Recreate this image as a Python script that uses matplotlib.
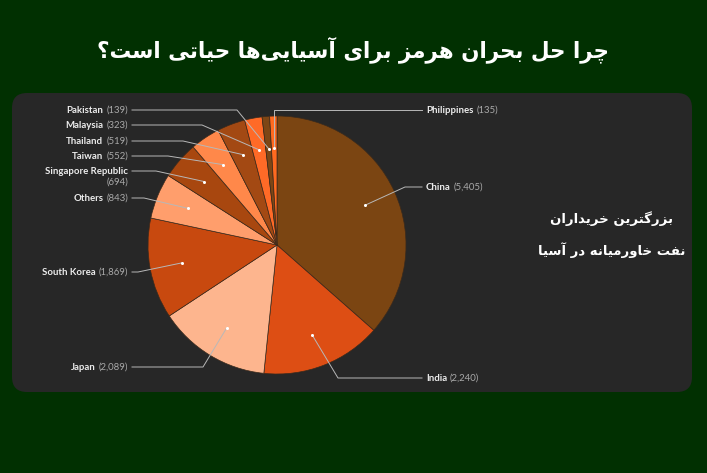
import matplotlib
matplotlib.use('Agg')
import matplotlib.pyplot as plt
from matplotlib.patches import FancyBboxPatch
import numpy as np

# data
countries = ['China', 'India', 'Japan', 'South Korea', 'Others', 'Singapore Republic',
             'Taiwan', 'Thailand', 'Malaysia', 'Pakistan', 'Philippines']
imports = [5405, 2240, 2089, 1869, 843, 694, 552, 519, 323, 139, 135]
colors = ['#7b4512', '#dd4e14', '#fdb58e', '#c8490f', '#ff9e6c', '#a8470f',
          '#ff884a', '#a34913', '#ff6a27', '#7d4615', '#ff6a20']
title_fa = 'چرا حل بحران هرمز برای آسیایی‌ها حیاتی است؟'
note_fa = ['بزرگترین خریداران', 'نفت خاورمیانه در آسیا']

# label layout (pixels): side, text y, knee x
layout = {
    'China': ('R', 187, 405),
    'India': ('R', 378, 338),
    'Japan': ('L', 367, 203),
    'South Korea': ('L', 272, 138),
    'Others': ('L', 198, 144),
    'Singapore Republic': ('L', 171, 156),
    'Taiwan': ('L', 156, 168),
    'Thailand': ('L', 141, 183),
    'Malaysia': ('L', 125, 202),
    'Pakistan': ('L', 110, 237),
    'Philippines': ('R', 110, None),
}

# simple persian shaping (presentation forms) + rtl order
forms = {
    'ا': (0xFE8D, 0xFE8E, None, None), 'آ': (0xFE81, 0xFE82, None, None),
    'ب': (0xFE8F, 0xFE90, 0xFE91, 0xFE92), 'ت': (0xFE95, 0xFE96, 0xFE97, 0xFE98),
    'ح': (0xFEA1, 0xFEA2, 0xFEA3, 0xFEA4), 'خ': (0xFEA5, 0xFEA6, 0xFEA7, 0xFEA8),
    'د': (0xFEA9, 0xFEAA, None, None), 'ر': (0xFEAD, 0xFEAE, None, None),
    'ز': (0xFEAF, 0xFEB0, None, None), 'س': (0xFEB1, 0xFEB2, 0xFEB3, 0xFEB4),
    'ف': (0xFED1, 0xFED2, 0xFED3, 0xFED4), 'ل': (0xFEDD, 0xFEDE, 0xFEDF, 0xFEE0),
    'م': (0xFEE1, 0xFEE2, 0xFEE3, 0xFEE4), 'ن': (0xFEE5, 0xFEE6, 0xFEE7, 0xFEE8),
    'ه': (0xFEE9, 0xFEEA, 0xFEEB, 0xFEEC), 'و': (0xFEED, 0xFEEE, None, None),
    'ی': (0xFBFC, 0xFBFD, 0xFBFE, 0xFBFF), 'چ': (0xFB7A, 0xFB7B, 0xFB7C, 0xFB7D),
    'گ': (0xFB92, 0xFB93, 0xFB94, 0xFB95),
}


def shape(s):
    out = []
    for i, c in enumerate(s):
        if c == '\u200c':
            continue
        if c not in forms:
            out.append(c)
            continue
        p = s[i - 1] if i > 0 else ''
        n = s[i + 1] if i + 1 < len(s) else ''
        pj = p in forms and forms[p][2] is not None
        nj = forms[c][2] is not None and n in forms
        f = forms[c]
        if pj and nj:
            cp = f[3]
        elif pj:
            cp = f[1]
        elif nj:
            cp = f[2]
        else:
            cp = f[0]
        out.append(chr(cp))
    return ''.join(out)[::-1]


W, H = 707, 473
fig = plt.figure(figsize=(W / 100, H / 100), dpi=100, facecolor='#013001')
ax = fig.add_axes([0, 0, 1, 1])
ax.set_facecolor('#013001')

cx, cy, r = 277, 245, 129
wedges, _ = ax.pie(imports, colors=colors, startangle=-90, counterclock=True,
                   center=(cx, cy), radius=r,
                   wedgeprops=dict(edgecolor='#3b2a1c', linewidth=0.5, zorder=3))
ax.set_xlim(0, W)
ax.set_ylim(H, 0)
ax.set_aspect('equal')
ax.axis('off')

panel = FancyBboxPatch((12 + 15, 93 + 15), 680 - 30, 299 - 30,
                       boxstyle='round,pad=15', fc='#272727', ec='none', zorder=1)
ax.add_patch(panel)

ax.text(353, 50, shape(title_fa), color='white', fontsize=15.5, fontweight='bold',
        family='DejaVu Sans', ha='center', va='center')
ax.text(612, 219, shape(note_fa[0]), color='white', fontsize=9.5, fontweight='bold',
        family='DejaVu Sans', ha='center', va='center')
ax.text(612, 250, shape(note_fa[1]), color='white', fontsize=9.5, fontweight='bold',
        family='DejaVu Sans', ha='center', va='center')

renderer = fig.canvas.get_renderer()
lc = '#b8b8b8'
fs = 6.9
for w, name, val in zip(wedges, countries, imports):
    side, ty, kx = layout[name]
    mid = np.deg2rad((w.theta1 + w.theta2) / 2)
    dx = cx + 0.75 * r * np.cos(mid)
    dy = cy + 0.75 * r * np.sin(mid)
    ax.plot(dx, dy, 'o', color='white', ms=2.2, mec='none', zorder=6)
    vtxt = '({:,})'.format(val)
    if side == 'R':
        if kx is None:
            kx = dx
        ax.plot([dx, kx, 422], [dy, ty, ty], color=lc, lw=0.7, zorder=5)
        t = ax.text(426, ty, name, color='#ececec', fontsize=fs, fontweight='bold',
                    family='Lato', ha='left', va='center')
        wpx = t.get_window_extent(renderer).width
        ax.text(426 + wpx + 3, ty, vtxt, color='#a9a9a9', fontsize=fs,
                family='Lato', ha='left', va='center')
    else:
        ax.plot([dx, kx, 132], [dy, ty, ty], color=lc, lw=0.7, zorder=5)
        if name == 'Singapore Republic':
            ax.text(128, ty, name, color='#ececec', fontsize=fs, fontweight='bold',
                    family='Lato', ha='right', va='center')
            ax.text(128, ty + 11, vtxt, color='#a9a9a9', fontsize=fs,
                    family='Lato', ha='right', va='center')
        else:
            t = ax.text(128, ty, vtxt, color='#a9a9a9', fontsize=fs,
                        family='Lato', ha='right', va='center')
            wpx = t.get_window_extent(renderer).width
            ax.text(128 - wpx - 3, ty, name, color='#ececec', fontsize=fs,
                    fontweight='bold', family='Lato', ha='right', va='center')

fig.savefig('out.png', dpi=100, facecolor=fig.get_facecolor())
